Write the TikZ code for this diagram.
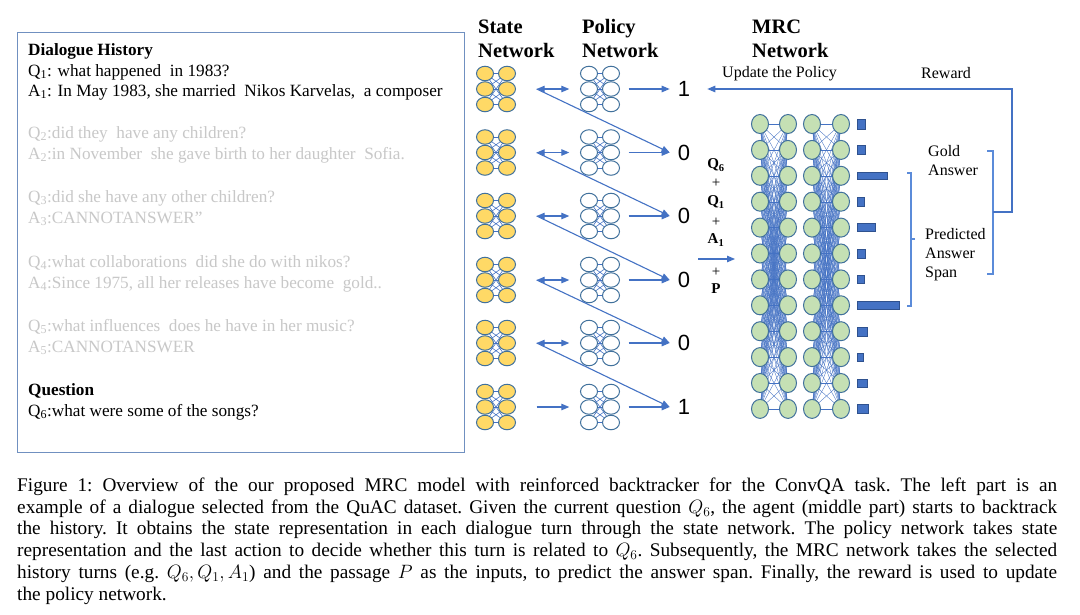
\documentclass[tikz,border=0pt]{standalone}
\usepackage{fix-cm}
\usepackage{fontspec}
\setmainfont{Liberation Serif}
\newfontfamily\arialf{Liberation Sans}
\usetikzlibrary{arrows.meta,calc,shapes.geometric}
\definecolor{arrblue}{HTML}{4472C4}
\definecolor{brkblue}{HTML}{5B8BD9}
\definecolor{netline}{HTML}{41719C}
\definecolor{barb}{HTML}{2F528F}
\definecolor{yel}{HTML}{FFD966}
\definecolor{grn}{HTML}{C5E0B4}
\definecolor{boxc}{HTML}{7090C0}
\definecolor{lgray}{HTML}{C8C8C8}
\tikzset{
 arr/.style={draw=arrblue, line width=1.1pt, -{Triangle[length=8pt,width=6.5pt]}},
 darr/.style={draw=arrblue, line width=1.1pt, {Triangle[length=8pt,width=6.5pt]}-{Triangle[length=8pt,width=6.5pt]}},
 brk/.style={draw=brkblue, line width=1.2pt},
 sneur/.style={ellipse, draw=netline, line width=1pt, minimum width=17pt, minimum height=14.5pt, inner sep=0},
 mneur/.style={ellipse, draw=netline, line width=1pt, fill=grn, minimum width=17pt, minimum height=19pt, inner sep=0},
 link/.style={draw=arrblue, line width=0.6pt},
 mlink/.style={draw=arrblue, line width=0.35pt},
 dtext/.style={anchor=base west, inner sep=0, font=\fontsize{17.2}{20}\selectfont},
 gtext/.style={dtext, text=lgray},
 hdr/.style={anchor=base west, inner sep=0, font=\fontsize{20.5}{24}\selectfont\bfseries},
 lbl/.style={anchor=base west, inner sep=0, font=\fontsize{16}{19}\selectfont},
 inl/.style={inner sep=0, font=\fontsize{15}{18}\selectfont\bfseries},
 plusl/.style={inner sep=0, font=\fontsize{15}{18}\selectfont},
 digit/.style={inner sep=0, font=\fontsize{22}{26}\arialf},
 bar/.style={anchor=west, fill=arrblue, draw=barb, line width=0.4pt, inner sep=0},
 captext/.style={anchor=base west, inner sep=0, font=\fontsize{19.3}{21.7}\selectfont\frenchspacing},
}
\newcommand{\mininet}[4]{%
  \begin{scope}[shift={(#2,#3)}]
    \foreach \ii in {-1,0,1} \foreach \jj in {-1,0,1} \draw[link] (-11,\ii*15.5) -- (11,\jj*15.5);
    \foreach \ii in {-1,0,1} {\node[sneur,fill=#4] (#1l\ii) at (-11,\ii*15.5) {}; \node[sneur,fill=#4] (#1r\ii) at (11,\ii*15.5) {};}
  \end{scope}
  \node[minimum width=39pt, minimum height=45.5pt, inner sep=0] (#1) at (#2,#3) {};
}
\begin{document}
\begin{tikzpicture}[x=1pt,y=-1pt]
\useasboundingbox (0,0) rectangle (1080,614);
\fill[white] (0,0) rectangle (1080,614);

% dialogue history box
\node[draw=boxc, line width=1.3pt, minimum width=447pt, minimum height=420pt, anchor=north west, inner sep=0] (hist) at (17,32) {};
\node[dtext] (t0) at (28,55) {\textbf{Dialogue History}};
\node[dtext] (t1) at (28,76) {Q\textsubscript{1}: what happened\ \ in 1983?};
\node[dtext] (t2) at (28,96) {A\textsubscript{1}: In May 1983, she married\ \ Nikos Karvelas,\ \ a composer};
\node[gtext] (t3) at (28,138) {Q\textsubscript{2}:did they\ \ have any children?};
\node[gtext] (t4) at (28,159) {A\textsubscript{2}:in November\ \ she gave birth to her daughter\ \ Sofia.};
\node[gtext] (t5) at (28,202) {Q\textsubscript{3}:did she have any other children?};
\node[gtext] (t6) at (28,223) {A\textsubscript{3}:CANNOTANSWER"};
\node[gtext] (t7) at (28,267) {Q\textsubscript{4}:what collaborations\ \ did she do with nikos?};
\node[gtext] (t8) at (28,288) {A\textsubscript{4}:Since 1975, all her releases have become\ \ gold..};
\node[gtext] (t9) at (28,331) {Q\textsubscript{5}:what influences\ \ does he have in her music?};
\node[gtext] (t10) at (28,352) {A\textsubscript{5}:CANNOTANSWER};
\node[dtext] (t11) at (28,395) {\textbf{Question}};
\node[dtext] (t12) at (28,416) {Q\textsubscript{6}:what were some of the songs?};

% headers
\node[hdr] (h1) at (478,33) {State};
\node[hdr] (h2) at (478,57) {Network};
\node[hdr] (h3) at (582,33) {Policy};
\node[hdr] (h4) at (582,57) {Network};
\node[hdr] (h5) at (752,33) {MRC};
\node[hdr] (h6) at (752,57) {Network};

% state / policy nets and outputs
\foreach \i/\y/\d in {1/89/1,2/152.5/0,3/216/0,4/280/0,5/343/0,6/407/1} {
  \mininet{s\i}{496}{\y}{yel}
  \mininet{p\i}{600}{\y}{white}
  \node[digit] (o\i) at (684,\y) {\d};
  \draw[arr] ([xshift=9pt]p\i.east) -- ([xshift=-8pt]o\i.west);
}
\foreach \i in {1,...,5} {
  \pgfmathtruncatemacro\j{\i+1}
  \draw[darr] ([xshift=21pt]s\i.east) -- ([xshift=-11pt]p\i.west);
  \draw[arr] ([xshift=21pt]s\i.east) -- ([xshift=-8pt]o\j.west);
}
\draw[arr] ([xshift=21pt]s6.east) -- ([xshift=-11pt]p6.west);

% input label
\node[inl] (q6) at (716,165) {Q\textsubscript{6}};
\node[plusl] (pl1) at (716,183) {+};
\node[inl] (q1) at (716,202) {Q\textsubscript{1}};
\node[plusl] (pl2) at (716,222) {+};
\node[inl] (a1) at (716,240) {A\textsubscript{1}};
\node[plusl] (pl3) at (716,272) {+};
\node[inl] (pp) at (716,289) {P};
\coordinate (inS) at (698,259);
\coordinate (inE) at (735,259);
\draw[arr] (inS) -- (inE);

% MRC network
\foreach \c/\x in {1/760,2/788,3/812,4/841}
  \foreach \r in {1,...,12}
    \coordinate (m\c-\r) at (\x,{124+25.9*(\r-1)});
\foreach \a in {1,...,12}
  \foreach \b in {1,...,12} {
    \draw[mlink] (m1-\a) -- (m2-\b);
    \draw[mlink] (m3-\a) -- (m4-\b);
  }
\foreach \c in {1,...,4}
  \foreach \r in {1,...,12}
    \node[mneur] (n\c-\r) at (m\c-\r) {};

% bars
\foreach \r/\w/\h in {1/8/10,2/8/9,3/30/7,4/7/9,5/18/8,6/8/9,7/7/8,8/42/8,9/10/9,10/6/8,11/10/8,12/11/9}
  \node[bar, minimum width=\w pt, minimum height=\h pt] (b\r) at (857,{124+25.9*(\r-1)}) {};

% brackets
\draw[brk] (907,173) -- (911,173) -- (911,306) -- (907,306);
\draw[brk] (911,239) -- (915,239);
\draw[brk] (987,151) -- (993,151) -- (993,274) -- (987,274);
\coordinate (gmid) at (993,212);
\coordinate (rcorner) at (1012,89);
\draw[arr] (gmid) -| (rcorner) -- ([xshift=17pt]o1.east);

% labels
\node[lbl] (lupd) at (722,77) {Update the Policy};
\node[lbl] (lrew) at (921,78) {Reward};
\node[lbl] (lg1) at (928,156) {Gold};
\node[lbl] (lg2) at (928,175) {Answer};
\node[lbl] (lp1) at (925,239) {Predicted};
\node[lbl] (lp2) at (925,258) {Answer};
\node[lbl] (lp3) at (925,277) {Span};

% caption
\node[captext] (c1) at (17,491.5) {\makebox[1040pt][s]{Figure 1: Overview of the our proposed MRC model with reinforced backtracker for the ConvQA task. The left part is an}};
\node[captext] (c2) at (17,513.2) {\makebox[1040pt][s]{example of a dialogue selected from the QuAC dataset. Given the current question $Q_6$, the agent (middle part) starts to backtrack}};
\node[captext] (c3) at (17,534.9) {\makebox[1040pt][s]{the history. It obtains the state representation in each dialogue turn through the state network. The policy network takes state}};
\node[captext] (c4) at (17,556.6) {\makebox[1040pt][s]{representation and the last action to decide whether this turn is related to $Q_6$. Subsequently, the MRC network takes the selected}};
\node[captext] (c5) at (17,578.3) {\makebox[1040pt][s]{history turns (e.g. $Q_6, Q_1, A_1$) and the passage $P$ as the inputs, to predict the answer span. Finally, the reward is used to update}};
\node[captext] (c6) at (17,600) {the policy network.};
\end{tikzpicture}
\end{document}
